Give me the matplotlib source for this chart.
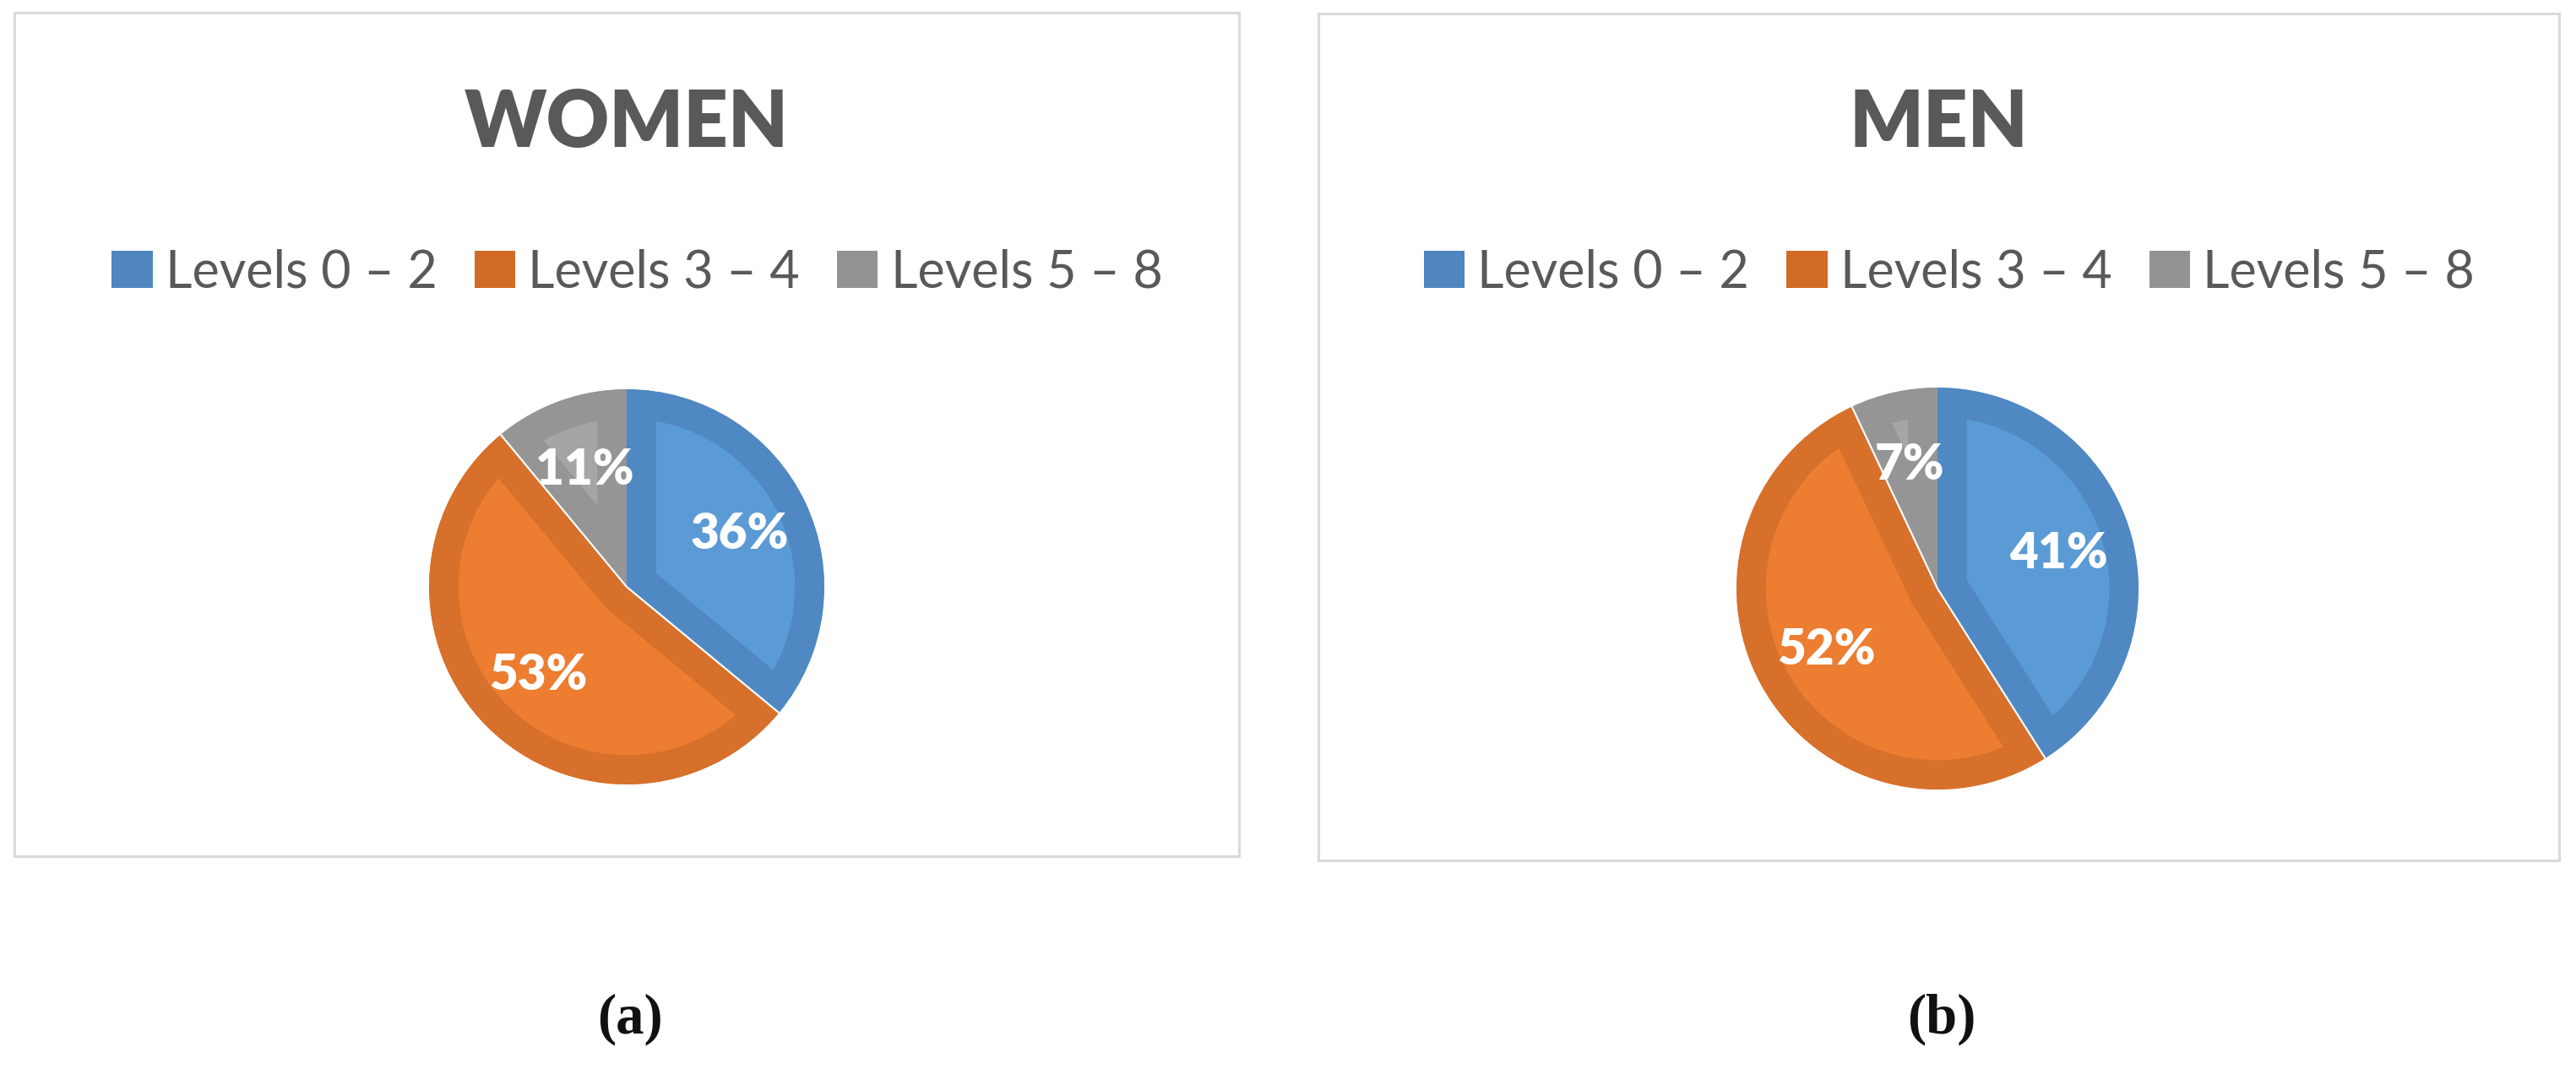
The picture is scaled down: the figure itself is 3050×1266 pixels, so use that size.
import matplotlib
matplotlib.use('Agg')
import matplotlib.pyplot as plt
from matplotlib.patches import Rectangle, Patch
import numpy as np

# ---------------- data ----------------
categories = ['Levels 0 – 2', 'Levels 3 – 4', 'Levels 5 – 8']
women_values = [36, 53, 11]
men_values = [41, 52, 7]
titles = ['WOMEN', 'MEN']
captions = ['(a)', '(b)']

# ---------------- style ----------------
fill_colors = ['#5B9BD5', '#ED7D31', '#A5A5A5']
edge_colors = ['#4F88C2', '#D6702B', '#959595']
legend_colors = ['#4F86BF', '#D26B27', '#939393']
text_gray = '#595959'
box_color = '#DADADA'

W, H = 3050, 1266
fig = plt.figure(figsize=(W / 100, H / 100), dpi=100)
fig.patch.set_facecolor('white')


def fx(px):
    return px / W


def fy(py):
    return 1 - py / H


panels = [
    dict(box=(16.5, 15.5, 1466.5, 1013.5), center=(742, 695), radius=234,
         values=women_values, title=titles[0], caption=captions[0]),
    dict(box=(1560.5, 15.5, 3029.5, 1019.0), center=(2294, 697), radius=238,
         values=men_values, title=titles[1], caption=captions[1]),
]

for p in panels:
    x0, y0, x1, y1 = p['box']
    bx_c = (x0 + x1) / 2
    # frame box
    fig.patches.append(Rectangle((fx(x0), fy(y1)), fx(x1) - fx(x0), fy(y0) - fy(y1),
                                 transform=fig.transFigure, facecolor='none',
                                 edgecolor=box_color, linewidth=2.2, zorder=0))
    # title
    fig.text(fx(bx_c), fy(174), p['title'], ha='center', va='baseline',
             fontsize=66, fontweight='heavy', family='Lato', color=text_gray)
    # legend
    handles = [Patch(facecolor=c, edgecolor='none') for c in legend_colors]
    fig.legend(handles, categories, loc='center', bbox_to_anchor=(fx(bx_c + 13), fy(323)),
               ncol=3, frameon=False, prop={'family': 'Lato', 'size': 44},
               labelcolor=text_gray, handlelength=0.79, handleheight=0.72,
               handletextpad=0.25, columnspacing=0.72, borderpad=0, borderaxespad=0)
    # pie
    cx, cy = p['center']
    R = p['radius']
    ax = fig.add_axes([fx(cx - R), fy(cy + R), 2 * R / W, 2 * R / H])
    wedges, texts, autotexts = ax.pie(
        p['values'], colors=fill_colors, startangle=90, counterclock=False,
        autopct=lambda v: f'{v:.0f}%', pctdistance=0.63,
        textprops=dict(color='white', fontsize=42, fontweight='heavy', family='Lato'))
    ax.set_xlim(-1, 1)
    ax.set_ylim(-1, 1)
    ax.set_aspect('equal')
    ax.axis('off')
    for w, ec in zip(wedges, edge_colors):
        w.set_edgecolor(ec)
        w.set_linewidth(50)
        w.set_clip_on(True)
        w.set_clip_path(w.get_path(), w.get_transform())
    # thin light separators between wedges (except at the top start line)
    cum = np.cumsum(p['values'])[:-1] / np.sum(p['values'])
    for f in cum:
        ang = np.deg2rad(90 - 360 * f)
        ax.plot([0, np.cos(ang)], [0, np.sin(ang)], color='white', lw=1.6,
                solid_capstyle='butt', zorder=5)
    # caption
    fig.text(fx(bx_c + 4), fy(1224), p['caption'], ha='center', va='baseline',
             fontsize=48, fontweight='bold', family='Liberation Serif', color='#111111')

fig.savefig('out.png', dpi=100, facecolor='white')
